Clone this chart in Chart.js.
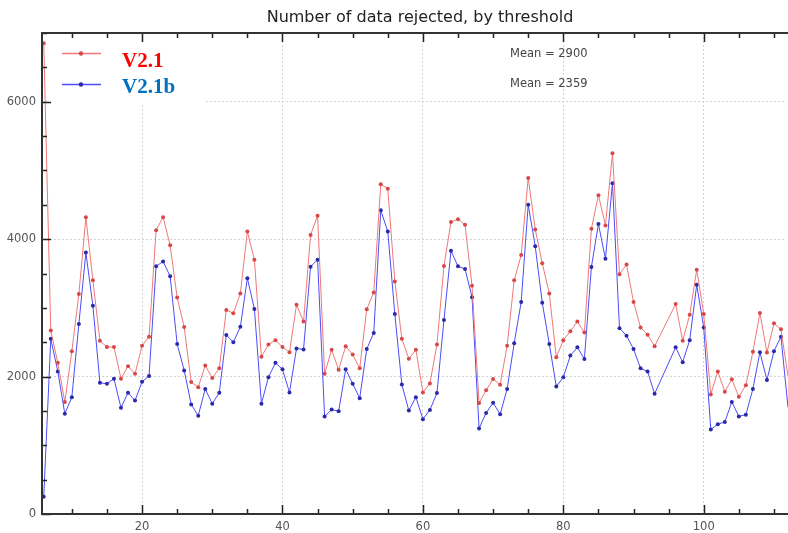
<!DOCTYPE html>
<html>
<head>
<meta charset="utf-8">
<title>Number of data rejected, by threshold</title>
<script src="https://cdn.jsdelivr.net/npm/chart.js@4.4.1/dist/chart.umd.min.js"></script>
<style>
  html, body { margin: 0; padding: 0; background: #fff; }
  canvas { display: block; }
</style>
</head>
<body>
<canvas id="chartRejected" width="788" height="533"></canvas>
<script>
const thresholds = [
  6, 7, 8, 9, 10, 11, 12, 13, 14, 15, 16, 17, 18, 19, 20, 21, 22, 23, 24, 25,
  26, 27, 28, 29, 30, 31, 32, 33, 34, 35, 36, 37, 38, 39, 40, 41, 42, 43, 44, 45,
  46, 47, 48, 49, 50, 51, 52, 53, 54, 55, 56, 57, 58, 59, 60, 61, 62, 63, 64, 65,
  66, 67, 68, 69, 70, 71, 72, 73, 74, 75, 76, 77, 78, 79, 80, 81, 82, 83, 84, 85,
  86, 87, 88, 89, 90, 91, 92, 93, 96, 97, 98, 99, 100, 101, 102, 103, 104, 105,
  106, 107, 108, 109, 110, 111, 112,
];

const rejectedV21 = [
  6850, 2670, 2200, 1630, 2370, 3200, 4320, 3400, 2520, 2430,
  2430, 1970, 2150, 2040, 2450, 2580, 4130, 4320, 3910, 3150,
  2720, 1920, 1845, 2160, 1980, 2120, 2970, 2920, 3210, 4110,
  3700, 2290, 2465, 2530, 2430, 2355, 3045, 2800, 4060, 4340,
  2040, 2390, 2100, 2440, 2320, 2120, 2980, 3225, 4800, 4735,
  3385, 2550, 2260, 2390, 1770, 1900, 2465, 3610, 4250, 4290,
  4210, 3320, 1615, 1800, 1965, 1880, 2450, 3400, 3770, 4890,
  4140, 3650, 3210, 2280, 2530, 2660, 2800, 2640, 4150, 4640,
  4200, 5250, 3490, 3630, 3085, 2715, 2610, 2440,
  3055, 2520, 2900, 3555, 2910, 1740, 2075, 1780, 1960, 1705,
  1875, 2360, 2925, 2350, 2775, 2690, 2000,
];

const rejectedV21b = [
  250, 2550, 2075, 1460, 1700, 2765, 3805, 3030, 1910, 1895,
  1970, 1545, 1765, 1650, 1925, 2010, 3605, 3675, 3460, 2475,
  2090, 1595, 1430, 1820, 1605, 1765, 2605, 2500, 2725, 3430,
  2985, 1605, 1990, 2200, 2105, 1770, 2410, 2395, 3600, 3700,
  1420, 1520, 1495, 2105, 1895, 1685, 2400, 2635, 4420, 4110,
  2910, 1885, 1505, 1700, 1380, 1515, 1760, 2825, 3830, 3605,
  3565, 3155, 1245, 1470, 1620, 1450, 1820, 2485, 3085, 4500,
  3895, 3075, 2475, 1855, 1990, 2305, 2425, 2255, 3595, 4220,
  3715, 4815, 2705, 2595, 2400, 2120, 2075, 1750,
  2425, 2210, 2530, 3335, 2715, 1230, 1305, 1340, 1630, 1420,
  1445, 1820, 2355, 1950, 2370, 2580, 1550,
];

const seriesNames = ['V2.1', 'V2.1b'];
const meanLabels = ['Mean = 2900', 'Mean = 2359'];
const xTickLabels = ['20', '40', '60', '80', '100'];
const yTickLabels = ['0', '2000', '4000', '6000'];
const chartTitle = 'Number of data rejected, by threshold';

const FONT = '"DejaVu Sans", sans-serif';
const RED_LINE = '#f07878';
const RED_MARK = '#d84848';
const BLUE_LINE = '#4c4cf8';
const BLUE_MARK = '#2a2aa8';

// matplotlib-like frame, inward ticks, legend box and labels
const decorations = {
  id: 'decorations',
  beforeDatasetsDraw(chart) {
    const { ctx } = chart;
    ctx.save();
    ctx.fillStyle = '#ffffff';
    ctx.fillRect(47, 34, 158, 71);
    ctx.restore();
  },
  afterDraw(chart) {
    const { ctx, chartArea } = chart;
    const xScale = chart.scales.x;
    const yScale = chart.scales.y;
    const { left, top, bottom } = chartArea;
    const edge = chart.width;

    ctx.save();

    // ticks
    ctx.strokeStyle = '#222';
    ctx.lineWidth = 1.5;
    ctx.beginPath();
    for (let v = 10; v <= 110; v += 5) {
      const px = Math.round(xScale.getPixelForValue(v)) + 0.5;
      const len = v % 20 === 0 ? 9 : 5;
      ctx.moveTo(px, bottom);
      ctx.lineTo(px, bottom - len);
      ctx.moveTo(px, top);
      ctx.lineTo(px, top + len);
    }
    for (let v = 0; v <= 7000; v += 500) {
      const py = Math.round(yScale.getPixelForValue(v)) + 0.5;
      const len = v % 2000 === 0 ? 9 : 5;
      ctx.moveTo(left, py);
      ctx.lineTo(left + len, py);
    }
    ctx.stroke();

    // frame
    ctx.strokeStyle = '#333';
    ctx.lineWidth = 2;
    ctx.beginPath();
    ctx.moveTo(edge, top);
    ctx.lineTo(left, top);
    ctx.lineTo(left, bottom);
    ctx.lineTo(edge, bottom);
    ctx.stroke();

    // title
    ctx.fillStyle = '#222';
    ctx.font = `16px ${FONT}`;
    ctx.textAlign = 'center';
    ctx.textBaseline = 'middle';
    ctx.fillText(chartTitle, 420, 18);

    // legend samples
    const samples = [
      { y: 53, line: RED_LINE, mark: RED_MARK },
      { y: 84, line: BLUE_LINE, mark: BLUE_MARK },
    ];
    samples.forEach((s) => {
      ctx.strokeStyle = s.line;
      ctx.lineWidth = 1.3;
      ctx.beginPath();
      ctx.moveTo(62, s.y + 0.5);
      ctx.lineTo(101, s.y + 0.5);
      ctx.stroke();
      ctx.fillStyle = s.mark;
      ctx.beginPath();
      ctx.arc(81, s.y + 0.5, 2.2, 0, Math.PI * 2);
      ctx.fill();
    });

    ctx.textAlign = 'left';
    ctx.textBaseline = 'alphabetic';
    ctx.font = 'bold 21px "Liberation Serif", serif';
    ctx.fillStyle = '#ff0000';
    ctx.fillText(seriesNames[0], 122, 67);
    ctx.fillStyle = '#0070c0';
    ctx.fillText(seriesNames[1], 122, 93);

    // mean annotations
    ctx.font = `11.5px ${FONT}`;
    ctx.fillStyle = '#444';
    ctx.textBaseline = 'middle';
    ctx.fillText(meanLabels[0], 510, 54);
    ctx.fillText(meanLabels[1], 510, 84);

    ctx.restore();
  },
};

const canvas = document.getElementById('chartRejected');

const chartRejected = new Chart(canvas, {
  type: 'line',
  data: {
    datasets: [
      {
        label: seriesNames[0],
        data: thresholds.map((x, i) => ({ x, y: rejectedV21[i] })),
        borderColor: RED_LINE,
        backgroundColor: RED_MARK,
        pointBackgroundColor: RED_MARK,
        pointBorderColor: RED_MARK,
        borderWidth: 1,
        pointRadius: 2,
        pointBorderWidth: 0,
        tension: 0,
        clip: false,
      },
      {
        label: seriesNames[1],
        data: thresholds.map((x, i) => ({ x, y: rejectedV21b[i] })),
        borderColor: BLUE_LINE,
        backgroundColor: BLUE_MARK,
        pointBackgroundColor: BLUE_MARK,
        pointBorderColor: BLUE_MARK,
        borderWidth: 1,
        pointRadius: 2,
        pointBorderWidth: 0,
        tension: 0,
        clip: false,
      },
    ],
  },
  options: {
    responsive: false,
    animation: false,
    devicePixelRatio: 1,
    layout: {
      padding: { top: 33, left: 0, right: 0, bottom: 0 },
    },
    plugins: {
      legend: { display: false },
      title: { display: false },
      tooltip: { enabled: false },
    },
    scales: {
      x: {
        type: 'linear',
        min: 5.75,
        max: 111.43,
        afterFit: (scale) => {
          scale.height = 19;
        },
        border: { display: false, dash: [2, 2] },
        grid: {
          drawTicks: false,
          color: (ctx) => (ctx.tick && ctx.tick.value % 20 === 0 ? '#d4d4d4' : 'rgba(0,0,0,0)'),
        },
        ticks: {
          stepSize: 5,
          includeBounds: false,
          autoSkip: false,
          maxRotation: 0,
          padding: 6,
          color: '#555',
          font: { family: FONT, size: 11.5 },
          callback: (value) => (xTickLabels.includes(String(value)) ? String(value) : ''),
        },
      },
      y: {
        type: 'linear',
        min: 0,
        max: 7000,
        afterFit: (scale) => {
          scale.width = 42;
        },
        border: { display: false, dash: [2, 2] },
        grid: {
          drawTicks: false,
          color: (ctx) => (ctx.tick && ctx.tick.value % 2000 === 0 && ctx.tick.value > 0 ? '#d4d4d4' : 'rgba(0,0,0,0)'),
        },
        ticks: {
          stepSize: 500,
          autoSkip: false,
          padding: 6,
          color: '#555',
          font: { family: FONT, size: 11.5 },
          callback: (value) => (yTickLabels.includes(String(value)) ? String(value) : ''),
        },
      },
    },
  },
  plugins: [decorations],
});
</script>
</body>
</html>
